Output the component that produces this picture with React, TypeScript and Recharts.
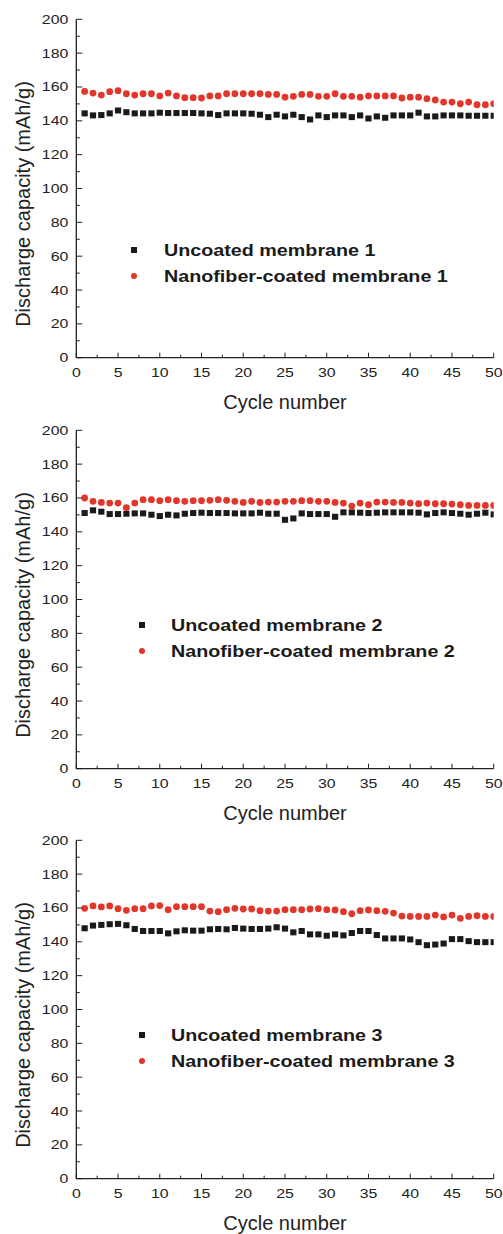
import React from 'react';
import { ScatterChart, Scatter, XAxis, YAxis, Legend } from 'recharts';

const cycles = [1,2,3,4,5,6,7,8,9,10,11,12,13,14,15,16,17,18,19,20,21,22,23,24,25,26,27,28,29,30,31,32,33,34,35,36,37,38,39,40,41,42,43,44,45,46,47,48,49,50];

const uncoated1 = [144.4,143.2,143.4,144.4,146.1,145.1,144.4,144.4,144.4,144.8,144.6,144.6,144.6,144.6,144.4,144.2,143.4,144.4,144.4,144.4,144.2,143.6,142.2,143.6,142.6,143.6,142.2,140.8,143.2,142.2,143.2,143.2,142.2,143.2,141.4,142.6,141.8,143.2,143.2,143.2,144.8,142.6,142.6,143.2,143.2,143.2,143.0,143.0,143.0,143.0];
const coated1 = [157.4,156.4,155.2,157.2,157.8,156.0,155.2,156.0,156.0,154.7,156.4,154.7,153.7,153.7,153.5,154.7,154.7,156.0,156.0,156.0,156.0,156.0,155.6,155.6,154.0,154.5,155.6,155.6,154.5,154.5,156.0,154.5,154.5,154.0,154.7,154.7,154.7,154.7,153.5,154.0,154.0,153.1,152.3,151.1,151.1,150.1,151.1,149.5,149.5,150.1];

const uncoated2 = [151.1,152.7,151.9,150.5,150.5,150.7,150.9,150.9,150.1,149.3,150.1,149.7,150.7,151.1,151.3,151.1,151.1,151.1,150.9,150.9,150.9,151.3,150.7,150.7,147.1,147.9,150.9,150.5,150.5,150.5,148.9,151.5,151.5,151.3,151.1,151.3,151.5,151.5,151.5,151.5,151.3,150.3,151.1,151.5,151.1,150.7,150.1,150.7,151.3,150.3];
const coated2 = [160.0,158.0,157.4,157.0,157.0,154.3,157.0,159.0,159.0,158.4,159.0,158.4,158.0,158.4,158.4,158.6,159.0,158.6,158.0,157.4,158.0,157.4,157.6,157.6,158.0,158.0,158.4,158.4,158.0,158.0,157.4,157.0,155.2,157.0,156.0,157.6,157.6,157.4,157.4,157.0,156.6,157.0,156.6,156.6,156.4,156.0,155.6,155.6,155.6,155.6];

const uncoated3 = [148.0,149.6,150.0,150.4,150.6,149.8,147.6,146.4,146.4,146.4,145.0,146.2,146.8,146.6,146.6,147.4,147.6,147.4,148.2,147.8,147.6,147.6,147.8,148.6,147.8,145.6,146.4,144.4,144.4,143.6,144.4,143.8,145.2,146.4,146.4,144.0,142.0,142.0,142.0,141.4,139.8,138.0,138.4,139.0,141.6,141.6,140.4,139.8,139.8,139.8];
const coated3 = [159.8,161.2,160.6,161.2,159.6,158.6,159.6,159.6,161.2,161.4,159.0,160.8,160.8,160.8,160.8,158.2,157.8,159.0,159.8,159.4,159.4,158.4,158.2,158.2,159.0,159.0,159.0,159.4,159.6,159.0,158.8,157.8,156.6,158.4,158.8,158.4,158.0,157.0,155.2,155.0,155.0,155.0,155.8,154.7,155.8,153.9,155.0,155.4,155.0,155.0];

const xTicks = [0,2.5,5,7.5,10,12.5,15,17.5,20,22.5,25,27.5,30,32.5,35,37.5,40,42.5,45,47.5,50];
const yTicks = [0,10,20,30,40,50,60,70,80,90,100,110,120,130,140,150,160,170,180,190,200];

const xTitle = 'Cycle number';
const yTitle = 'Discharge capacity (mAh/g)';

const FONT = '"Liberation Sans", Arial, Helvetica, sans-serif';
const AX = '#222';
const BLACK = '#1a1a1a';
const RED = '#e2362a';

const PLOT_LEFT = 76.3;
const PLOT_TOP = 19.3;
const PLOT_H = 338.4;
const PLOT_RIGHT = 493.7;
const CHART_H = 422;

function BottomTick(p: any) {
  const { x, y, payload } = p;
  const v = payload.value;
  const major = v % 5 === 0;
  return (
    <g>
      <line x1={x} x2={x} y1={y} y2={y - (major ? 5 : 3)} stroke={AX} strokeWidth={1} />
      {major && (
        <text transform={`translate(${x},${y + 14.5}) scale(1.22,1)`} textAnchor="middle" dominantBaseline="central" fontSize={13} fill="#222" fontFamily={FONT}>{v}</text>
      )}
    </g>
  );
}
function TopTick(p: any) {
  const { x, y, payload } = p;
  const major = payload.value % 5 === 0;
  return <line x1={x} x2={x} y1={y} y2={y + (major ? 5 : 3)} stroke={AX} strokeWidth={1} />;
}
function LeftTick(p: any) {
  const { x, y, payload } = p;
  const v = payload.value;
  const major = v % 20 === 0;
  return (
    <g>
      <line x1={x} x2={x + (major ? 6 : 3.5)} y1={y} y2={y} stroke={AX} strokeWidth={1} />
      {major && (
        <text transform={`translate(${x - 8},${y}) scale(1.22,1)`} textAnchor="end" dominantBaseline="central" fontSize={13} fill="#222" fontFamily={FONT}>{v}</text>
      )}
    </g>
  );
}
function RightTick(p: any) {
  const { x, y, payload } = p;
  const major = payload.value % 20 === 0;
  return <line x1={x} x2={x - (major ? 6 : 3.5)} y1={y} y2={y} stroke={AX} strokeWidth={1} />;
}

const squareShape = (p: any) => <rect x={p.cx - 3.1} y={p.cy - 3} width={6.2} height={6} fill={BLACK} />;
const circleShape = (p: any) => <circle cx={p.cx} cy={p.cy} r={3.4} fill={RED} />;

function Panel({ top, n, unc, coa, lx, ly }: any) {
  const dUnc = cycles.map((c, i) => ({ x: c, y: unc[i] }));
  const dCoa = cycles.map((c, i) => ({ x: c, y: coa[i] }));
  const names = [`Uncoated membrane ${n}`, `Nanofiber-coated membrane ${n}`];
  const legendContent = () => (
    <div style={{ position: 'relative', width: 503, height: 0 }}>
      {names.map((nm, i) => {
        const ry = ly + i * 25.8;
        return (
          <div key={i}>
            {i === 0 ? (
              <div style={{ position: 'absolute', left: lx - 3, top: ry - 3, width: 6, height: 6, background: BLACK }} />
            ) : (
              <div style={{ position: 'absolute', left: lx - 3.2, top: ry - 3.2, width: 6.4, height: 6.4, borderRadius: '50%', background: RED }} />
            )}
            <span style={{ position: 'absolute', left: lx + 29.5, top: ry - 9, fontFamily: FONT, fontWeight: 'bold', fontSize: 17, lineHeight: '20px', color: '#1a1a1a', whiteSpace: 'nowrap', transform: 'scaleX(1.16)', transformOrigin: 'left center' }}>{nm}</span>
          </div>
        );
      })}
    </div>
  );
  return (
    <div style={{ position: 'absolute', left: 0, top }}>
      <ScatterChart width={503} height={CHART_H} margin={{ top: PLOT_TOP, right: 503 - PLOT_RIGHT, bottom: 0, left: 20 }}>
        <XAxis xAxisId="b" type="number" dataKey="x" domain={[0, 50]} ticks={xTicks} interval={0} tickSize={0} tickMargin={0} tickLine={false}
          axisLine={{ stroke: AX, strokeWidth: 1.3 }} tick={(p: any) => <BottomTick {...p} />} height={CHART_H - PLOT_TOP - PLOT_H} allowDataOverflow
          label={() => (
            <text x={(PLOT_LEFT + PLOT_RIGHT) / 2} y={PLOT_TOP + PLOT_H + 44.5} textAnchor="middle" dominantBaseline="central" fontSize={20} fill="#222" fontFamily={FONT}>{xTitle}</text>
          )} />
        <XAxis xAxisId="t" orientation="top" type="number" dataKey="x" domain={[0, 50]} ticks={xTicks} interval={0} tickSize={0} tickMargin={0} tickLine={false}
          axisLine={{ stroke: AX, strokeWidth: 1.3 }} tick={(p: any) => <TopTick {...p} />} height={0} allowDataOverflow />
        <YAxis yAxisId="l" type="number" dataKey="y" domain={[0, 200]} ticks={yTicks} interval={0} tickSize={0} tickMargin={0} tickLine={false}
          axisLine={{ stroke: AX, strokeWidth: 1.3 }} tick={(p: any) => <LeftTick {...p} />} width={PLOT_LEFT - 20} allowDataOverflow
          label={() => (
            <text transform={`translate(22.5,${PLOT_TOP + 184.7}) rotate(-90)`} textAnchor="middle" dominantBaseline="central" fontSize={20} fill="#222" fontFamily={FONT}>{yTitle}</text>
          )} />
        <YAxis yAxisId="r" orientation="right" type="number" dataKey="y" domain={[0, 200]} ticks={yTicks} interval={0} tickSize={0} tickMargin={0} tickLine={false}
          axisLine={{ stroke: AX, strokeWidth: 1.3 }} tick={(p: any) => <RightTick {...p} />} width={0} allowDataOverflow />
        <Scatter xAxisId="b" yAxisId="l" name={names[0]} data={dUnc} fill={BLACK} shape={squareShape} legendType="square" isAnimationActive={false} />
        <Scatter xAxisId="b" yAxisId="l" name={names[1]} data={dCoa} fill={RED} shape={circleShape} legendType="circle" isAnimationActive={false} />
        <Legend layout="vertical" align="center" verticalAlign="middle" content={legendContent}
          wrapperStyle={{ position: 'absolute', left: 0, top: 0, width: 503, height: 0 }} />
      </ScatterChart>
    </div>
  );
}

export default function App() {
  return (
    <div style={{ position: 'absolute', left: 0, top: 0, width: 503, height: 1234, overflow: 'hidden', background: '#fff' }}>
      <Panel top={0} n={1} unc={uncoated1} coa={coated1} lx={134} ly={250} />
      <Panel top={410.7} n={2} unc={uncoated2} coa={coated2} lx={141.7} ly={214.3} />
      <Panel top={820.7} n={3} unc={uncoated3} coa={coated3} lx={141.7} ly={214.3} />
    </div>
  );
}
